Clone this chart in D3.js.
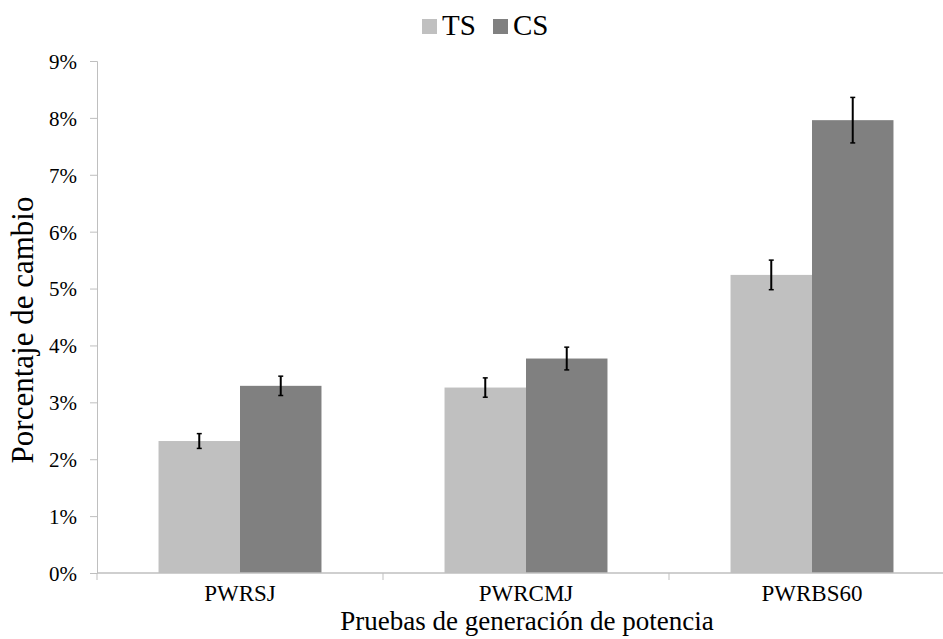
<!DOCTYPE html>
<html>
<head>
<meta charset="utf-8">
<style>
  body { margin: 0; background: #fff; }
  svg text { font-family: "Liberation Serif", "DejaVu Serif", "Times New Roman", serif !important; fill: #000; }
</style>
</head>
<body>
<svg id="graph" width="943" height="639"></svg>
<script src="https://d3js.org/d3.v7.min.js"></script>
<script>
// data (percent change)
var categories = ["PWRSJ", "PWRCMJ", "PWRBS60"];
var series = ["TS", "CS"];
var tsValues = [2.32, 3.26, 5.24];
var csValues = [3.29, 3.77, 7.96];
var tsErrors = [0.13, 0.17, 0.26];
var csErrors = [0.17, 0.20, 0.40];
var yTicks = [0, 1, 2, 3, 4, 5, 6, 7, 8, 9];

var colors = { TS: "#c0c0c0", CS: "#808080" };
var axisColor = "#bfbfbf";

var svg = d3.select("#graph"),
    plotLeft = 97, plotRight = 955, plotTop = 61, plotBottom = 573;

var rows = [];
for (var i = 0; i < categories.length; i++) {
  rows.push({ cat: categories[i], key: "TS", value: tsValues[i], err: tsErrors[i] });
  rows.push({ cat: categories[i], key: "CS", value: csValues[i], err: csErrors[i] });
}

var x0 = d3.scaleBand()
    .domain(categories)
    .range([plotLeft, plotRight]);

var x1 = d3.scaleBand()
    .domain(series)
    .range([0, x0.bandwidth()])
    .paddingOuter(0.755);

var y = d3.scaleLinear()
    .domain([0, 9])
    .range([plotBottom, plotTop]);

// y axis
var yAxis = svg.append("g")
    .attr("transform", "translate(" + plotLeft + ",0)")
    .call(d3.axisLeft(y).tickValues(yTicks).tickFormat(function (d) { return d + "%"; }).tickSize(7).tickPadding(13));
yAxis.select(".domain").attr("stroke", axisColor);
yAxis.selectAll(".tick line").attr("stroke", axisColor);
yAxis.selectAll(".tick text").style("font-size", "21px").attr("dy", "0.35em");

// bars
svg.append("g").selectAll("rect")
  .data(rows)
  .enter().append("rect")
    .attr("x", function (d) { return x0(d.cat) + x1(d.key); })
    .attr("y", function (d) { return y(d.value); })
    .attr("width", x1.bandwidth())
    .attr("height", function (d) { return y(0) - y(d.value); })
    .attr("fill", function (d) { return colors[d.key]; });

// x axis line + boundary ticks
svg.append("line")
    .attr("x1", plotLeft).attr("x2", plotRight)
    .attr("y1", y(0)).attr("y2", y(0))
    .attr("stroke", axisColor).attr("stroke-width", 1.5);

var bounds = categories.map(function (c) { return x0(c); }).concat([plotRight]);
svg.append("g").selectAll("line")
  .data(bounds)
  .enter().append("line")
    .attr("x1", function (d) { return d; }).attr("x2", function (d) { return d; })
    .attr("y1", y(0)).attr("y2", y(0) + 7)
    .attr("stroke", axisColor);

svg.append("g").selectAll("text")
  .data(categories)
  .enter().append("text")
    .attr("x", function (d) { return x0(d) + x0.bandwidth() / 2; })
    .attr("y", 601)
    .attr("text-anchor", "middle")
    .style("font-size", "23px")
    .text(function (d) { return d; });

// error bars
var eb = svg.append("g").attr("stroke", "#000").attr("stroke-width", 2);
rows.forEach(function (d) {
  var cx = x0(d.cat) + x1(d.key) + x1.bandwidth() / 2;
  var ya = y(d.value + d.err), yb = y(d.value - d.err);
  eb.append("line").attr("x1", cx).attr("x2", cx).attr("y1", ya).attr("y2", yb);
  eb.append("line").attr("x1", cx - 2.5).attr("x2", cx + 2.5).attr("y1", ya).attr("y2", ya).attr("stroke-width", 1.5);
  eb.append("line").attr("x1", cx - 2.5).attr("x2", cx + 2.5).attr("y1", yb).attr("y2", yb).attr("stroke-width", 1.5);
});

// axis titles
svg.append("text")
    .attr("x", 527)
    .attr("y", 630)
    .attr("text-anchor", "middle")
    .style("font-size", "27px")
    .text("Pruebas de generación de potencia");

svg.append("text")
    .attr("transform", "translate(33,330) rotate(-90)")
    .attr("text-anchor", "middle")
    .style("font-size", "31px")
    .text("Porcentaje de cambio");

// legend
var legend = svg.append("g");
var legendX = [422, 493];
series.forEach(function (s, i) {
  legend.append("rect")
    .attr("x", legendX[i]).attr("y", 19)
    .attr("width", 15).attr("height", 15)
    .attr("fill", colors[s]);
  legend.append("text")
    .attr("x", legendX[i] + 20).attr("y", 35)
    .style("font-size", "29px")
    .text(s);
});
</script>
</body>
</html>
